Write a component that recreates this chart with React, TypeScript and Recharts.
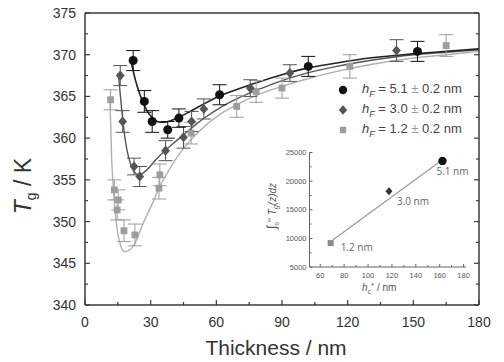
import React from 'react';
import { ComposedChart, Scatter, Line, XAxis, YAxis, ErrorBar, Legend } from 'recharts';

// ---------- main chart data ----------
const blackThickness = [22, 27.1, 30.7, 37.8, 42.9, 61.5, 102, 151.9];
const blackTg = [369.3, 364.4, 362.0, 361.0, 362.4, 365.2, 368.6, 370.4];
const blackErr = [1.2, 1.3, 1.3, 1.0, 1.1, 1.2, 1.2, 1.2];

const darkThickness = [16.1, 17.2, 22.4, 25, 36.8, 45, 48.7, 54.3, 75.5, 93.6, 142.3];
const darkTg = [367.5, 362.0, 356.6, 355.4, 358.5, 360.1, 362.0, 363.5, 366.0, 367.8, 370.5];
const darkErr = [1.2, 1.3, 1.0, 1.2, 1.2, 1.3, 1.2, 1.2, 1.0, 1.0, 1.3];

const lightThickness = [11.7, 13.4, 14.7, 15.2, 17.8, 22.8, 33.8, 34.2, 48.5, 69.3, 78.2, 90, 121, 165];
const lightTg = [364.6, 353.8, 351.4, 352.6, 348.9, 348.4, 354.0, 355.6, 360.6, 363.8, 365.6, 366.0, 368.6, 371.1];
const lightErr = [1.2, 1.2, 1.2, 1.2, 1.3, 1.3, 1.3, 1.3, 1.3, 1.3, 1.3, 1.2, 1.4, 1.3];

const blackFitX = [21.3, 23, 25, 27, 29, 31, 33, 35, 38, 42, 48, 55, 62, 70, 80, 90, 100, 115, 130, 150, 165, 180];
const blackFitT = [368.9, 367.0, 365.3, 364.0, 363.0, 362.4, 362.0, 361.9, 362.0, 362.4, 363.2, 364.2, 365.1, 365.9, 366.8, 367.6, 368.3, 369.0, 369.6, 370.1, 370.4, 370.7];

const darkFitX = [15.2, 16, 17, 18.5, 20, 22, 24.5, 27, 30, 33, 36.5, 40, 45, 50, 55, 62, 70, 80, 90, 100, 115, 130, 150, 165, 180];
const darkFitT = [367.8, 365.6, 362.8, 359.6, 357.6, 356.2, 355.6, 355.9, 356.7, 357.6, 358.5, 359.3, 360.4, 361.5, 362.5, 363.7, 364.8, 365.9, 366.9, 367.7, 368.6, 369.3, 370.0, 370.3, 370.6];

const lightFitX = [11.4, 12.2, 12.9, 14.5, 16, 17.9, 20.5, 22.8, 26.6, 30.5, 34.2, 38, 42, 48, 55, 62, 70, 80, 90, 100, 115, 130, 150, 165, 180];
const lightFitT = [364.6, 357.4, 354.2, 349.4, 347.4, 346.4, 346.6, 347.4, 349.8, 352.0, 354.2, 356.0, 357.7, 359.7, 361.5, 362.9, 364.1, 365.3, 366.2, 367.0, 368.0, 368.8, 369.6, 370.0, 370.4];

const xTicks = [0, 15, 30, 45, 60, 75, 90, 105, 120, 135, 150, 165, 180];
const yTicks = [340, 342.5, 345, 347.5, 350, 352.5, 355, 357.5, 360, 362.5, 365, 367.5, 370, 372.5, 375];

const hfValues = ['5.1', '3.0', '1.2'];
const hfError = '0.2';

// ---------- inset data ----------
const insetHc = [68.7, 117.5, 162.3];
const insetIntegral = [9180, 18240, 23530];
const insetLabels = ['1.2 nm', '3.0 nm', '5.1 nm'];
const insetFitHc = [70.5, 160];
const insetFitIntegral = [9700, 23400];
const insetXTicks = [60, 70, 80, 90, 100, 110, 120, 130, 140, 150, 160, 170, 180];
const insetYTicks = [5000, 7500, 10000, 12500, 15000, 17500, 20000, 22500, 25000];

// ---------- styles ----------
const W = 504;
const H = 362;
const FONT = '"Liberation Sans", Arial, sans-serif';
const AXIS = '#3a3a3a';
const BLACK = '#111111';
const DARK = '#555555';
const LIGHT = '#9d9d9d';
const LIGHTLINE = '#b0b0b0';

const pts = (xs: number[], ys: number[], es?: number[]) =>
  xs.map((x, i) => ({ x, y: ys[i], err: es ? es[i] : 0 }));

const blackData = pts(blackThickness, blackTg, blackErr);
const darkData = pts(darkThickness, darkTg, darkErr);
const lightData = pts(lightThickness, lightTg, lightErr);
const blackFit = pts(blackFitX, blackFitT);
const darkFit = pts(darkFitX, darkFitT);
const lightFit = pts(lightFitX, lightFitT);

const insetPts = insetHc.map((x, i) => ({ x, y: insetIntegral[i], label: insetLabels[i] }));
const insetFit = pts(insetFitHc, insetFitIntegral);

function marker(kind: string, cx: number, cy: number, s: number, color: string) {
  if (kind === 'circle') return <circle cx={cx} cy={cy} r={s} fill={color} />;
  if (kind === 'diamond')
    return (
      <polygon
        points={`${cx},${cy - s * 1.15} ${cx + s},${cy} ${cx},${cy + s * 1.15} ${cx - s},${cy}`}
        fill={color}
      />
    );
  return <rect x={cx - s} y={cy - s} width={s * 2} height={s * 2} fill={color} />;
}

const mkShape = (kind: string, s: number, color: string) => (p: any) => {
  if (p == null || p.cx == null || p.cy == null) return <g />;
  return marker(kind, p.cx, p.cy, s, color);
};

const legendSpec: Record<string, { kind: string; color: string }> = {
  '5.1': { kind: 'circle', color: BLACK },
  '3.0': { kind: 'diamond', color: DARK },
  '1.2': { kind: 'square', color: LIGHT },
};

// ---------- tick renderers ----------
const BottomTick = (props: any) => {
  const { x, y, payload } = props;
  const v = payload.value;
  const major = v % 30 === 0;
  return (
    <g>
      <line x1={x} x2={x} y1={y} y2={y - (major ? 5 : 3)} stroke={AXIS} strokeWidth={1.2} />
      {major && (
        <text x={x} y={y + 22} textAnchor="middle" fontSize={14} fill="#333" fontFamily={FONT}>
          {v}
        </text>
      )}
    </g>
  );
};
const TopTick = (props: any) => {
  const { x, y, payload } = props;
  const major = payload.value % 30 === 0;
  return <line x1={x} x2={x} y1={y} y2={y + (major ? 5 : 3)} stroke={AXIS} strokeWidth={1.2} />;
};
const LeftTick = (props: any) => {
  const { x, y, payload } = props;
  const v = payload.value;
  const major = v % 5 === 0;
  return (
    <g>
      <line x1={x} x2={x + (major ? 5 : 3)} y1={y} y2={y} stroke={AXIS} strokeWidth={1.2} />
      {major && (
        <text x={x - 9} y={y + 5} textAnchor="end" fontSize={14} fill="#333" fontFamily={FONT}>
          {v}
        </text>
      )}
    </g>
  );
};
const RightTick = (props: any) => {
  const { x, y, payload } = props;
  const major = payload.value % 5 === 0;
  return <line x1={x} x2={x - (major ? 5 : 3)} y1={y} y2={y} stroke={AXIS} strokeWidth={1.2} />;
};

const InsetBottomTick = (props: any) => {
  const { x, y, payload } = props;
  const v = payload.value;
  const major = v % 20 === 0;
  return (
    <g>
      <line x1={x} x2={x} y1={y} y2={y - (major ? 3 : 2)} stroke="#666" strokeWidth={1} />
      {major && (
        <text x={x} y={y + 11} textAnchor="middle" fontSize={7.5} fill="#555" fontFamily={FONT}>
          {v}
        </text>
      )}
    </g>
  );
};
const InsetLeftTick = (props: any) => {
  const { x, y, payload } = props;
  const v = payload.value;
  const major = v % 5000 === 0;
  return (
    <g>
      <line x1={x} x2={x + (major ? 3 : 2)} y1={y} y2={y} stroke="#666" strokeWidth={1} />
      {major && (
        <text x={x - 3} y={y + 2.5} textAnchor="end" fontSize={7.5} fill="#555" fontFamily={FONT}>
          {v}
        </text>
      )}
    </g>
  );
};

const insetLabelOffsets = [
  { dx: 10, dy: 8, anchor: 'start' },
  { dx: 8, dy: 14, anchor: 'start' },
  { dx: -6, dy: 14, anchor: 'start' },
];
const insetKinds = [
  { kind: 'square', color: '#8a8a8a', s: 3 },
  { kind: 'diamond', color: '#333', s: 3.5 },
  { kind: 'circle', color: BLACK, s: 4.2 },
];
const insetShape = (i: number) => (p: any) => {
  if (p == null || p.cx == null) return <g />;
  const k = insetKinds[i];
  const o = insetLabelOffsets[i];
  return (
    <g>
      {marker(k.kind, p.cx, p.cy, k.s, k.color)}
      <text
        x={p.cx + o.dx}
        y={p.cy + o.dy}
        fontSize={10}
        fill="#666"
        fontFamily='"Open Sans", "Noto Sans", sans-serif'
        textAnchor={o.anchor as any}
      >
        {insetPts[i].label}
      </text>
    </g>
  );
};

const renderLegend = (props: any) => {
  const payload = (props && props.payload) || [];
  const items = hfValues.filter((v) => payload.some((e: any) => e.value === v));
  const list = items.length ? items : hfValues;
  return (
    <div style={{ fontFamily: FONT, fontSize: 13, color: '#444' }}>
      {list.map((v) => {
        const sp = legendSpec[v];
        return (
          <div key={v} style={{ display: 'flex', alignItems: 'center', height: 20 }}>
            <svg width={14} height={20} style={{ display: 'block' }}>
              {marker(sp.kind, 7, 10, sp.kind === 'square' ? 3.2 : 4.2, sp.color)}
            </svg>
            <span style={{ marginLeft: 12, whiteSpace: 'nowrap' }}>
              <i>h</i>
              <sub style={{ fontSize: 9, fontStyle: 'italic' }}>F</sub> = {v} <span style={{ color: '#999' }}>±</span> {hfError} nm
            </span>
          </div>
        );
      })}
    </div>
  );
};

export default function App() {
  return (
    <div style={{ position: 'absolute', left: 0, top: 0, width: W, height: H, background: '#fff' }}>
      <ComposedChart
        width={W}
        height={H}
        margin={{ top: 3, right: 15, bottom: 27, left: 0 }}
        style={{ position: 'absolute', left: 0, top: 0 }}
      >
        <XAxis
          xAxisId="b"
          dataKey="x"
          type="number"
          domain={[0, 180]}
          ticks={xTicks}
          interval={0}
          height={30}
          tickSize={0}
          tickMargin={0}
          tickLine={false}
          tick={<BottomTick />}
          axisLine={{ stroke: AXIS, strokeWidth: 1.5 }}
          label={{
            content: () => (
              <text x={276} y={355} textAnchor="middle" fontSize={21} fill="#333" fontFamily={FONT}>
                Thickness / nm
              </text>
            ),
          }}
        />
        <XAxis
          xAxisId="t"
          orientation="top"
          type="number"
          domain={[0, 180]}
          ticks={xTicks}
          interval={0}
          height={10}
          tickSize={0}
          tickMargin={0}
          tickLine={false}
          tick={<TopTick />}
          axisLine={{ stroke: AXIS, strokeWidth: 1.5 }}
          allowDataOverflow
        />
        <YAxis
          yAxisId="l"
          dataKey="y"
          type="number"
          domain={[340, 375]}
          ticks={yTicks}
          interval={0}
          width={85}
          tickSize={0}
          tickMargin={0}
          tickLine={false}
          tick={<LeftTick />}
          axisLine={{ stroke: AXIS, strokeWidth: 1.5 }}
          label={{
            content: () => (
              <text
                x={31}
                y={186}
                transform="rotate(-90, 31, 186)"
                textAnchor="middle"
                fontSize={23}
                fill="#333"
                fontFamily={FONT}
              >
                <tspan fontStyle="italic">T</tspan>
                <tspan fontSize={14} dy={5}>g</tspan>
                <tspan dy={-5}> / K</tspan>
              </text>
            ),
          }}
        />
        <YAxis
          yAxisId="r"
          orientation="right"
          type="number"
          domain={[340, 375]}
          ticks={yTicks}
          interval={0}
          width={10}
          tickSize={0}
          tickMargin={0}
          tickLine={false}
          tick={<RightTick />}
          axisLine={{ stroke: AXIS, strokeWidth: 1.5 }}
          allowDataOverflow
        />

        <Line xAxisId="b" yAxisId="l" data={lightFit} dataKey="y" type="monotone" stroke={LIGHTLINE} strokeWidth={1.4} dot={false} legendType="none" isAnimationActive={false} />
        <Line xAxisId="b" yAxisId="l" data={darkFit} dataKey="y" type="monotone" stroke={DARK} strokeWidth={1.4} dot={false} legendType="none" isAnimationActive={false} />
        <Line xAxisId="b" yAxisId="l" data={blackFit} dataKey="y" type="monotone" stroke="#222" strokeWidth={1.6} dot={false} legendType="none" isAnimationActive={false} />

        <Scatter xAxisId="b" yAxisId="l" name="1.2" data={lightData} dataKey="y" shape={mkShape('square', 3.4, LIGHT)} isAnimationActive={false}>
          <ErrorBar dataKey="err" direction="y" width={7} stroke={LIGHT} strokeWidth={1} />
        </Scatter>
        <Scatter xAxisId="b" yAxisId="l" name="3.0" data={darkData} dataKey="y" shape={mkShape('diamond', 4.4, DARK)} isAnimationActive={false}>
          <ErrorBar dataKey="err" direction="y" width={7} stroke={DARK} strokeWidth={1} />
        </Scatter>
        <Scatter xAxisId="b" yAxisId="l" name="5.1" data={blackData} dataKey="y" shape={mkShape('circle', 4.5, BLACK)} isAnimationActive={false}>
          <ErrorBar dataKey="err" direction="y" width={7} stroke={BLACK} strokeWidth={1} />
        </Scatter>

        <Legend
          layout="vertical"
          align="center"
          verticalAlign="middle"
          content={renderLegend}
          wrapperStyle={{ position: 'absolute', left: 336, top: 80, width: 170, height: 60 }}
        />
      </ComposedChart>

      <ComposedChart
        width={W}
        height={H}
        margin={{ top: 152.5, right: 38, bottom: 60, left: 0 }}
        style={{ position: 'absolute', left: 0, top: 0 }}
      >
        <XAxis
          dataKey="x"
          type="number"
          domain={[51, 182]}
          ticks={insetXTicks}
          interval={0}
          height={35}
          tickSize={0}
          tickMargin={0}
          tickLine={false}
          tick={<InsetBottomTick />}
          axisLine={{ stroke: '#666', strokeWidth: 1 }}
          label={{
            content: () => (
              <text x={362} y={291} fontSize={10} fill="#555" fontFamily={FONT}>
                <tspan fontStyle="italic">h</tspan>
                <tspan fontSize={7} dy={2.5}>c</tspan>
                <tspan fontSize={8} dy={-6}>*</tspan>
                <tspan dy={3.5}> / nm</tspan>
              </text>
            ),
          }}
        />
        <YAxis
          dataKey="y"
          type="number"
          domain={[5000, 25000]}
          ticks={insetYTicks}
          interval={0}
          width={309.5}
          tickSize={0}
          tickMargin={0}
          tickLine={false}
          tick={<InsetLeftTick />}
          axisLine={{ stroke: '#666', strokeWidth: 1 }}
          label={{
            content: () => (
              <text
                x={276}
                y={206}
                transform="rotate(-90, 276, 206)"
                textAnchor="middle"
                fontSize={10}
                fill="#555"
                fontFamily={FONT}
              >
                <tspan fontSize={13}>∫</tspan>
                <tspan fontSize={6} dy={3}>0</tspan>
                <tspan fontSize={6} dy={-8}>∞</tspan>
                <tspan dy={5} fontStyle="italic"> T</tspan>
                <tspan fontSize={7} dy={2} fontStyle="italic">g</tspan>
                <tspan dy={-2} fontStyle="italic">(z)dz</tspan>
              </text>
            ),
          }}
        />
        <Line data={insetFit} dataKey="y" type="linear" stroke="#9a9a9a" strokeWidth={1.2} dot={false} legendType="none" isAnimationActive={false} />
        {insetPts.map((p, i) => (
          <Scatter key={i} data={[p]} dataKey="y" shape={insetShape(i)} legendType="none" isAnimationActive={false} />
        ))}
      </ComposedChart>
    </div>
  );
}
